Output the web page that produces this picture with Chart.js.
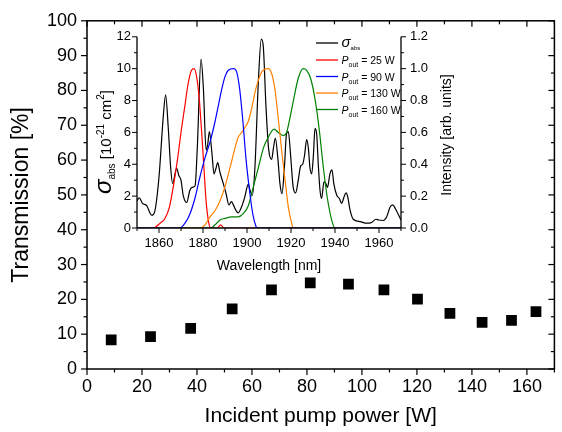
<!DOCTYPE html>
<html><head><meta charset="utf-8">
<script src="https://cdn.jsdelivr.net/npm/chart.js@4"></script>
<style>
html,body{margin:0;padding:0;background:#fff;}
#wrap{position:relative;width:562px;height:432px;overflow:hidden;}
#main{position:absolute;left:0;top:0;}
#inset{position:absolute;left:90px;top:20px;}
</style></head><body>
<div id="wrap">
<canvas id="main" width="562" height="432"></canvas>
<canvas id="inset" width="375" height="260"></canvas>
</div>
<script>
// ---------- main chart data ----------
const pumpPower = [8.8, 23.1, 37.7, 52.8, 67.1, 81.2, 95.1, 108, 120.2, 132, 143.7, 154.4, 163.3];
const transmission = [8.4, 9.3, 11.7, 17.3, 22.7, 24.7, 24.4, 22.7, 20.1, 16.0, 13.4, 14.0, 16.5];
const mainXTicks = [0, 20, 40, 60, 80, 100, 120, 140, 160];
const mainYTicks = [0, 10, 20, 30, 40, 50, 60, 70, 80, 90, 100];

// ---------- inset data ----------
const absWavelength = [1850, 1851, 1852.5, 1854.4, 1856.7, 1858, 1860, 1862, 1863, 1864.2, 1865.3, 1866.2, 1868, 1869, 1870, 1871, 1872.6, 1874, 1875, 1876.4, 1877.4, 1879.1, 1880.2, 1881.4, 1882.1, 1882.9, 1884, 1885, 1885.8, 1886.7, 1887.7, 1889.2, 1890.5, 1891.8, 1892.9, 1893.8, 1895, 1896, 1897.6, 1899, 1900.6, 1901.4, 1902.4, 1903.6, 1905.2, 1906.5, 1907.4, 1908.6, 1909.8, 1911.2, 1912, 1912.9, 1914, 1915, 1915.9, 1917, 1918, 1918.8, 1919.8, 1921, 1922.1, 1923.3, 1924.4, 1925.3, 1926.2, 1927.1, 1927.9, 1928.6, 1929.4, 1930.2, 1930.9, 1931.7, 1932.4, 1933.2, 1933.9, 1935, 1935.8, 1936.6, 1937.7, 1938.6, 1939.5, 1940.8, 1942, 1943, 1944.1, 1945, 1945.8, 1946.8, 1948.3, 1951.4, 1954.4, 1956.7, 1958.6, 1959.8, 1962, 1963.5, 1965, 1966.2, 1967.7, 1970];
const absSigma = [1.7, 1.9, 1.55, 1.4, 0.8, 1.0, 3.2, 7.1, 8.35, 6.3, 3.8, 2.8, 3.75, 3.3, 3.0, 2.05, 1.6, 2.35, 2.55, 2.65, 5.0, 10.6, 8.7, 4.9, 5.2, 6.05, 4.8, 3.4, 3.7, 4.1, 3.5, 2.8, 2.15, 1.45, 1.65, 1.45, 1.1, 0.95, 1.35, 1.95, 2.75, 2.35, 2.05, 3.8, 9.3, 11.85, 11.4, 7.7, 5.0, 4.3, 5.0, 5.65, 4.4, 2.75, 2.15, 3.8, 5.95, 6.05, 4.6, 2.55, 2.2, 3.0, 3.9, 4.0, 4.6, 5.55, 5.0, 3.8, 3.4, 4.6, 6.25, 5.85, 4.0, 2.35, 1.85, 2.9, 2.8, 2.55, 3.4, 3.65, 2.75, 2.05, 1.85, 1.55, 1.95, 2.2, 1.95, 1.15, 0.55, 0.4, 0.3, 0.35, 0.55, 0.5, 0.47, 0.7, 1.3, 1.45, 1.15, 0.5];

const p25Wavelength = [1850, 1857.4, 1860.5, 1862.7, 1864.7, 1866.5, 1868.3, 1870.3, 1871.8, 1873.3, 1874.8, 1875.9, 1877.1, 1878.3, 1879.4, 1880.5, 1881.4, 1882.4, 1883.5, 1886.5, 1888, 1889.5, 1970];
const p25Intensity = [0, 0, 0.03, 0.06, 0.13, 0.26, 0.42, 0.63, 0.77, 0.91, 0.99, 1.0, 0.95, 0.81, 0.6, 0.36, 0.17, 0.05, 0, 0, 0.02, 0, 0];

const p90Wavelength = [1850, 1869.5, 1871.8, 1874.1, 1876.4, 1878.6, 1880.9, 1883.2, 1885.5, 1887, 1888.5, 1890, 1891.5, 1893.8, 1895, 1896.5, 1898, 1899.5, 1901.1, 1902.6, 1904.1, 1904.7, 1970];
const p90Intensity = [0, 0, 0.03, 0.09, 0.19, 0.32, 0.44, 0.54, 0.67, 0.77, 0.87, 0.95, 0.99, 1.0, 0.99, 0.89, 0.69, 0.44, 0.24, 0.09, 0.01, 0, 0];

const p130Wavelength = [1850, 1878.6, 1880.9, 1883.2, 1885.5, 1887.7, 1890, 1892.3, 1894.5, 1896, 1897.6, 1899.5, 1900.6, 1902.1, 1903.6, 1905.2, 1906.7, 1909.7, 1911.2, 1912.7, 1914.2, 1915.8, 1917.3, 1918.8, 1920.3, 1921, 1970];
const p130Intensity = [0, 0, 0.02, 0.07, 0.11, 0.17, 0.26, 0.38, 0.5, 0.57, 0.6, 0.64, 0.67, 0.75, 0.85, 0.93, 0.98, 1.0, 0.97, 0.87, 0.69, 0.48, 0.3, 0.13, 0.03, 0, 0];

const p160Wavelength = [1850, 1883.2, 1885.5, 1887.7, 1890, 1893, 1896, 1898.3, 1900.6, 1902.9, 1905.2, 1907.4, 1909.7, 1912.3, 1914.2, 1916.5, 1918, 1919.5, 1921.1, 1923.3, 1925.6, 1927.1, 1928.9, 1930.9, 1932.9, 1934.7, 1936.5, 1938.5, 1940, 1970];
const p160Intensity = [0, 0, 0.02, 0.05, 0.06, 0.07, 0.07, 0.09, 0.14, 0.26, 0.38, 0.5, 0.57, 0.62, 0.6, 0.58, 0.6, 0.69, 0.8, 0.94, 1.0, 0.99, 0.94, 0.81, 0.61, 0.38, 0.19, 0.05, 0, 0];

const insetXTicks = [1860, 1880, 1900, 1920, 1940, 1960];
const insetYTicks = [0, 2, 4, 6, 8, 10, 12];
const insetY2Ticks = [0, 0.2, 0.4, 0.6, 0.8, 1.0, 1.2];
const legendLabels = ['25 W', '90 W', '130 W', '160 W'];

const FONT = '"Liberation Sans", Arial, Helvetica, sans-serif';
const pts = (xs, ys) => xs.map((v, i) => ({x: v, y: ys[i]}));

function drawRich(ctx, parts, x, y) {
  let cx = x;
  for (const p of parts) {
    ctx.font = p.font;
    ctx.fillText(p.t, cx, y + (p.dy || 0));
    cx += ctx.measureText(p.t).width;
  }
  return cx - x;
}
function richWidth(ctx, parts) {
  let w = 0;
  for (const p of parts) { ctx.font = p.font; w += ctx.measureText(p.t).width; }
  return w;
}
function line(ctx, x1, y1, x2, y2) { ctx.beginPath(); ctx.moveTo(x1, y1); ctx.lineTo(x2, y2); ctx.stroke(); }

// ---------- main chart ----------
const mainPlugin = {
  id: 'mainDeco',
  afterDraw(chart) {
    const {ctx, chartArea: ca, scales: {x, y}} = chart;
    ctx.save();
    ctx.strokeStyle = '#000';
    ctx.lineWidth = 1.5;
    ctx.strokeRect(ca.left, ca.top, ca.right - ca.left, ca.bottom - ca.top);
    ctx.lineWidth = 1.2;
    for (let v = 0; v <= 170; v += 10) {
      const px = x.getPixelForValue(v);
      const major = mainXTicks.includes(v);
      const L = major ? 6 : 3.5;
      line(ctx, px, ca.bottom, px, ca.bottom + L);
      line(ctx, px, ca.top, px, ca.top + L);
    }
    for (let v = 0; v <= 100; v += 5) {
      const py = y.getPixelForValue(v);
      const major = mainYTicks.includes(v);
      const L = major ? 6 : 3.5;
      line(ctx, ca.left - L, py, ca.left, py);
      line(ctx, ca.right - L, py, ca.right, py);
    }
    ctx.fillStyle = '#000';
    ctx.textAlign = 'center';
    ctx.textBaseline = 'middle';
    ctx.font = '21px ' + FONT;
    ctx.fillText('Incident pump power [W]', (ca.left + ca.right) / 2, 416);
    ctx.save();
    ctx.font = '23px ' + FONT;
    ctx.translate(22, (ca.top + ca.bottom) / 2);
    ctx.rotate(-Math.PI / 2);
    ctx.fillText('Transmission [%]', 0, 0);
    ctx.restore();
    ctx.restore();
  }
};

new Chart(document.getElementById('main'), {
  type: 'scatter',
  data: {
    datasets: [{
      label: 'Transmission',
      data: pts(pumpPower, transmission),
      backgroundColor: '#000',
      borderColor: '#000',
      pointStyle: 'rect',
      pointRadius: 7.6,
      pointHoverRadius: 7.6,
      borderWidth: 0
    }]
  },
  options: {
    responsive: false,
    devicePixelRatio: 1,
    animation: false,
    events: [],
    layout: {padding: {left: 0, right: 1, top: 15, bottom: 0}},
    plugins: {legend: {display: false}, tooltip: {enabled: false}},
    scales: {
      x: {
        type: 'linear', min: 0, max: 170,
        grid: {display: false, drawTicks: false}, border: {display: false},
        afterBuildTicks: s => { s.ticks = mainXTicks.map(v => ({value: v})); },
        afterFit: s => { s.height = 63; },
        ticks: {color: '#000', font: {family: FONT, size: 18}, padding: 7, maxRotation: 0, autoSkip: false,
                callback: v => String(v)}
      },
      y: {
        type: 'linear', min: 0, max: 100,
        grid: {display: false, drawTicks: false}, border: {display: false},
        afterBuildTicks: s => { s.ticks = mainYTicks.map(v => ({value: v})); },
        afterFit: s => { s.width = 87; },
        ticks: {color: '#000', font: {family: FONT, size: 18}, padding: 10, autoSkip: false,
                callback: v => String(v)}
      }
    }
  },
  plugins: [mainPlugin]
});

// ---------- inset chart ----------
const insetPlugin = {
  id: 'insetDeco',
  afterDraw(chart) {
    const {ctx, chartArea: ca, scales: {x, y, y2}} = chart;
    ctx.save();
    ctx.strokeStyle = '#000';
    ctx.lineWidth = 1.3;
    line(ctx, ca.left, ca.top, ca.left, ca.bottom);
    line(ctx, ca.right, ca.top, ca.right, ca.bottom);
    line(ctx, ca.left, ca.bottom, ca.right, ca.bottom);
    ctx.lineWidth = 1;
    for (let v = 1850; v <= 1970; v += 10) {
      const px = x.getPixelForValue(v);
      const L = insetXTicks.includes(v) ? 5 : 3;
      line(ctx, px, ca.bottom, px, ca.bottom + L);
    }
    for (let v = 0; v <= 12; v += 1) {
      const py = y.getPixelForValue(v);
      const L = insetYTicks.includes(v) ? 5 : 3;
      line(ctx, ca.left - L, py, ca.left, py);
    }
    for (let k = 0; k <= 12; k++) {
      const v = k / 10;
      const py = y2.getPixelForValue(v);
      const L = (k % 2 === 0) ? 5 : 3;
      line(ctx, ca.right, py, ca.right + L, py);
    }
    ctx.fillStyle = '#000';
    ctx.textAlign = 'center';
    ctx.textBaseline = 'middle';
    ctx.font = '14px ' + FONT;
    ctx.fillText('Wavelength [nm]', (ca.left + ca.right) / 2, 246);
    // right title
    ctx.save();
    ctx.translate(357, 115);
    ctx.rotate(-Math.PI / 2);
    ctx.fillText('Intensity [arb. units]', 0, 0);
    ctx.restore();
    // left title with sub/superscripts
    ctx.save();
    ctx.translate(15, 122);
    ctx.rotate(-Math.PI / 2);
    ctx.textAlign = 'left';
    ctx.textBaseline = 'alphabetic';
    const parts = [
      {t: 'σ', font: 'italic 24px ' + FONT, dy: 0},
      {t: 'abs', font: '10px ' + FONT, dy: 4},
      {t: ' [10', font: '15px ' + FONT, dy: 0},
      {t: '-21', font: '10px ' + FONT, dy: -7},
      {t: ' cm', font: '15px ' + FONT, dy: 0},
      {t: '2', font: '10px ' + FONT, dy: -7},
      {t: ']', font: '15px ' + FONT, dy: 0}
    ];
    const w = richWidth(ctx, parts);
    drawRich(ctx, parts, -w / 2, 6);
    ctx.restore();
    // legend
    ctx.textAlign = 'left';
    ctx.textBaseline = 'alphabetic';
    const ds = chart.data.datasets;
    const lx1 = 226, lx2 = 248, tx = 251.5;
    const rows = [23, 40, 56.5, 73, 89.5];
    for (let i = 0; i < 5; i++) {
      ctx.strokeStyle = ds[i].borderColor;
      ctx.lineWidth = 1.3;
      line(ctx, lx1, rows[i], lx2, rows[i]);
      ctx.fillStyle = '#000';
      if (i === 0) {
        drawRich(ctx, [
          {t: 'σ', font: 'italic 15px ' + FONT, dy: 0},
          {t: 'abs', font: '6px ' + FONT, dy: 3}
        ], tx, rows[i] + 4);
      } else {
        drawRich(ctx, [
          {t: 'P', font: 'italic 10.5px ' + FONT, dy: 0},
          {t: 'out', font: '7px ' + FONT, dy: 3},
          {t: ' = ' + legendLabels[i - 1], font: '10.5px ' + FONT, dy: 0}
        ], tx, rows[i] + 4);
      }
    }
    ctx.restore();
  }
};

const lineDs = (label, xs, ys, color, axis, order) => ({
  label, data: pts(xs, ys), borderColor: color, backgroundColor: color,
  borderWidth: 1.2, pointRadius: 0, fill: false, yAxisID: axis, order,
  cubicInterpolationMode: 'monotone'
});

new Chart(document.getElementById('inset'), {
  type: 'line',
  data: {
    datasets: [
      lineDs('σabs', absWavelength, absSigma, '#000000', 'y', 5),
      lineDs('Pout = 25 W', p25Wavelength, p25Intensity, '#ff0000', 'y2', 3),
      lineDs('Pout = 90 W', p90Wavelength, p90Intensity, '#0000ff', 'y2', 1),
      lineDs('Pout = 130 W', p130Wavelength, p130Intensity, '#ff8000', 'y2', 2),
      lineDs('Pout = 160 W', p160Wavelength, p160Intensity, '#008000', 'y2', 4)
    ]
  },
  options: {
    responsive: false,
    devicePixelRatio: 1,
    animation: false,
    events: [],
    layout: {padding: {left: 0, right: 0, top: 13, bottom: 0}},
    plugins: {legend: {display: false}, tooltip: {enabled: false}},
    scales: {
      x: {
        type: 'linear', min: 1850, max: 1970,
        grid: {display: false, drawTicks: false}, border: {display: false},
        afterBuildTicks: s => { s.ticks = insetXTicks.map(v => ({value: v})); },
        afterFit: s => { s.height = 52; },
        ticks: {color: '#000', font: {family: FONT, size: 13}, padding: 8, maxRotation: 0, autoSkip: false,
                callback: v => String(v)}
      },
      y: {
        type: 'linear', position: 'left', min: 0, max: 12,
        grid: {display: false, drawTicks: false}, border: {display: false},
        afterBuildTicks: s => { s.ticks = insetYTicks.map(v => ({value: v})); },
        afterFit: s => { s.width = 47; },
        ticks: {color: '#000', font: {family: FONT, size: 13}, padding: 6, autoSkip: false,
                callback: v => String(v)}
      },
      y2: {
        type: 'linear', position: 'right', min: 0, max: 1.2,
        grid: {display: false, drawTicks: false}, border: {display: false},
        afterBuildTicks: s => { s.ticks = insetY2Ticks.map(v => ({value: v})); },
        afterFit: s => { s.width = 64; },
        ticks: {color: '#000', font: {family: FONT, size: 13}, padding: 9, autoSkip: false,
                callback: v => Number(v).toFixed(1)}
      }
    }
  },
  plugins: [insetPlugin]
});
</script>
</body></html>
